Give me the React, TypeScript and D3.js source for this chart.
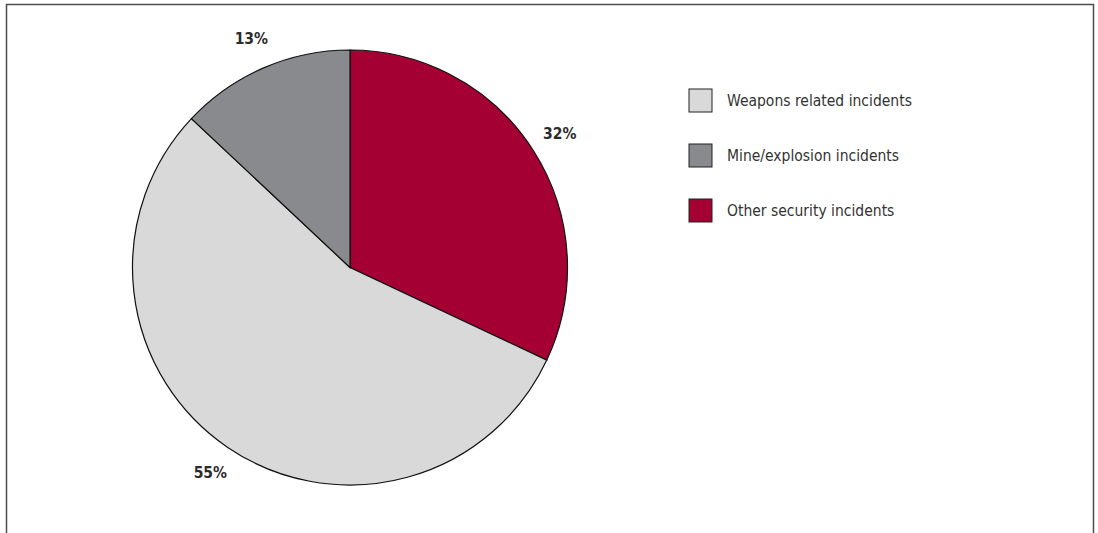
import React from "react";
import * as d3 from "d3";

const categories = ["Other security incidents", "Weapons related incidents", "Mine/explosion incidents"];
const values = [32, 55, 13];
const colors = ["#a50034", "#d9d9d9", "#898a8e"];
const labels = ["32%", "55%", "13%"];
const legendOrder = ["Weapons related incidents", "Mine/explosion incidents", "Other security incidents"];

export default function App() {
  const W = 1098, H = 533;
  const cx = 350, cy = 267.5, r = 217.5;
  const pie = d3.pie<number>().sort(null).value((d) => d)(values);
  const arc = d3.arc<d3.PieArcDatum<number>>().innerRadius(0).outerRadius(r);
  const labelArc = d3.arc<d3.PieArcDatum<number>>().innerRadius(r + 31).outerRadius(r + 31);
  const legendY = d3.scaleBand().domain(legendOrder).range([89, 89 + 55 * 3]);
  return (
    <svg width={W} height={H} style={{ position: "absolute", left: 0, top: 0 }}>
      <rect x={0} y={0} width={W} height={H} fill="#fff" />
      <path d={`M6.5,${H + 5} L6.5,4.5 L1093.5,4.5 L1093.5,${H + 5}`} fill="none" stroke="#4d4d4d" strokeWidth={1.5} />
      <g transform={`translate(${cx},${cy})`}>
        {pie.map((p, i) => (
          <path key={i} d={arc(p) || ""} fill={colors[i]} stroke="#111" strokeWidth={1.2} />
        ))}
        {pie.map((p, i) => {
          const [x, y] = labelArc.centroid(p);
          return (
            <text key={i} x={x} y={y} textAnchor="middle" dominantBaseline="central"
              fontFamily="'DejaVu Sans Condensed', 'Liberation Sans', sans-serif" fontWeight="bold" fontSize={15.5} fill="#2b2b2b">
              {labels[i]}
            </text>
          );
        })}
      </g>
      {legendOrder.map((c) => {
        const i = categories.indexOf(c);
        const y = legendY(c)!;
        return (
          <g key={c}>
            <rect x={689} y={y} width={23} height={23} fill={colors[i]} stroke="#222" strokeWidth={1} />
            <text x={727} y={y + 12} dominantBaseline="central" fontFamily="'Liberation Sans Narrow', 'DejaVu Sans Condensed', sans-serif"
              fontSize={15.5} fill="#333">{c}</text>
          </g>
        );
      })}
    </svg>
  );
}
